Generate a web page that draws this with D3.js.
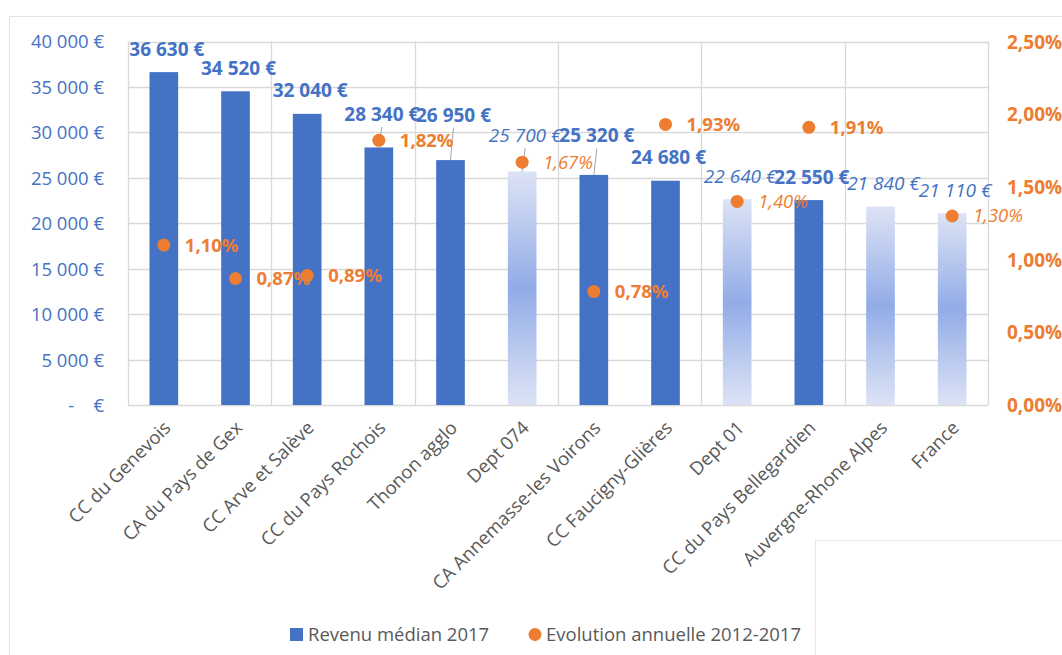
<!DOCTYPE html>
<html>
<head>
<meta charset="utf-8">
<script src="https://cdn.jsdelivr.net/npm/d3@7"></script>
<style>
  body { margin: 0; background: #fff; }
  svg { font-family: "Open Sans", sans-serif; display: block; }
</style>
</head>
<body>
<svg id="chart" width="1062" height="655"></svg>
<script>
const categories = ["CC du Genevois", "CA du Pays de Gex", "CC Arve et Salève", "CC du Pays Rochois",
    "Thonon agglo", "Dept 074", "CA Annemasse-les Voirons", "CC Faucigny-Glières", "Dept 01",
    "CC du Pays Bellegardien", "Auvergne-Rhone Alpes", "France"];
const revenu = [36630, 34520, 32040, 28340, 26950, 25700, 25320, 24680, 22640, 22550, 21840, 21110];
const evolution = [1.10, 0.87, 0.89, 1.82, null, 1.67, 0.78, 1.93, 1.40, 1.91, null, 1.30];
// reference territories drawn with the pale gradient
const reference = ["Dept 074", "Dept 01", "Auvergne-Rhone Alpes", "France"];
const leftTicks = [0, 5000, 10000, 15000, 20000, 25000, 30000, 35000, 40000];
const rightTicks = [0, 0.5, 1, 1.5, 2, 2.5];

// extra lift of some value labels (moved by hand in the original), with leader lines
const labelLift = [0, 0, 0, 10, 22, 13, 16, 0, 0, 0, 0, 0];

const blue = "#4472C4", orange = "#ED7D31", grey = "#595959", grid = "#d9d9d9";

const svg = d3.select("#chart");
const plotLeft = 128, plotRight = 988, plotTop = 41.5, plotBottom = 405;

const defs = svg.append("defs");
const grad = defs.append("linearGradient").attr("id", "pale").attr("x1", 0).attr("x2", 0).attr("y1", 0).attr("y2", 1);
grad.append("stop").attr("offset", "0%").attr("stop-color", "#dde3f5");
grad.append("stop").attr("offset", "50%").attr("stop-color", "#92ace7");
grad.append("stop").attr("offset", "100%").attr("stop-color", "#dde3f5");

// outer frame
svg.append("rect").attr("x", 9.5).attr("y", 16.5).attr("width", 1100).attr("height", 700)
    .attr("fill", "#fff").attr("stroke", "#e3e3e3");

const x = d3.scaleBand().domain(categories).range([plotLeft, plotRight]).paddingInner(0).paddingOuter(0);
const y = d3.scaleLinear().domain([0, 40000]).range([plotBottom, plotTop]);
const y2 = d3.scaleLinear().domain([0, 2.5]).range([plotBottom, plotTop]);
const barW = x.bandwidth() * 0.4;
const cx = d => x(d) + x.bandwidth() / 2;

// horizontal gridlines
svg.append("g").selectAll("line").data(leftTicks).join("line")
    .attr("x1", plotLeft).attr("x2", plotRight)
    .attr("y1", d => Math.round(y(d)) + 0.5).attr("y2", d => Math.round(y(d)) + 0.5)
    .attr("stroke", grid).attr("stroke-width", 1.3);

// vertical gridlines every two categories
const vlines = d3.range(0, categories.length + 1, 2).map(i => plotLeft + i * x.step());
svg.append("g").selectAll("line").data(vlines).join("line")
    .attr("x1", d => Math.round(d) + 0.5).attr("x2", d => Math.round(d) + 0.5)
    .attr("y1", plotTop).attr("y2", plotBottom)
    .attr("stroke", grid).attr("stroke-width", 1.3);

// left axis
const yAxis = d3.axisLeft(y).tickValues(leftTicks).tickSize(0).tickPadding(0)
    .tickFormat(d => d === 0 ? "-    €" : d3.format(",")(d).replace(/,/g, " ") + " €");
const ga = svg.append("g").attr("transform", `translate(104,0)`).call(yAxis);
ga.select(".domain").remove();
ga.selectAll("text").attr("fill", blue).attr("font-size", 18.5).attr("font-family", "Open Sans")
    .style("white-space", "pre").attr("dy", "0.35em");

// right axis
const y2Axis = d3.axisRight(y2).tickValues(rightTicks).tickSize(0).tickPadding(0)
    .tickFormat(d => d3.format(".2f")(d).replace(".", ",") + "%");
const gb = svg.append("g").attr("transform", `translate(1007,0)`).call(y2Axis);
gb.select(".domain").remove();
gb.selectAll("text").attr("fill", orange).attr("font-size", 19).attr("font-weight", "bold")
    .attr("font-family", "Open Sans").attr("dy", "0.35em");

// bars
const isRef = d => reference.includes(d);
svg.append("g").selectAll("rect").data(categories).join("rect")
    .attr("x", d => cx(d) - barW / 2)
    .attr("width", barW)
    .attr("y", (d, i) => y(revenu[i]))
    .attr("height", (d, i) => y(0) - y(revenu[i]))
    .attr("fill", d => isRef(d) ? "url(#pale)" : blue);

// category labels
svg.append("g").selectAll("text").data(categories).join("text")
    .attr("transform", d => `translate(${cx(d) + 8},${429}) rotate(-45)`)
    .attr("text-anchor", "end")
    .attr("fill", grey).attr("font-size", 18.5)
    .text(d => d);

// value labels
const fmtEur = v => d3.format(",")(v).replace(/,/g, " ") + " €";
const labelY = i => y(revenu[i]) - 16.5 - labelLift[i];
svg.append("g").selectAll("line").data(categories.filter((d, i) => labelLift[i] > 0)).join("line")
    .attr("x1", d => cx(d) + 3).attr("y1", d => labelY(categories.indexOf(d)) + 6)
    .attr("x2", d => cx(d)).attr("y2", d => y(revenu[categories.indexOf(d)]))
    .attr("stroke", "#a6a6a6").attr("stroke-width", 1);

svg.append("g").selectAll("text").data(categories).join("text")
    .attr("x", d => cx(d) + 3)
    .attr("y", (d, i) => labelY(i))
    .attr("text-anchor", "middle")
    .attr("fill", blue).attr("font-size", 19)
    .attr("font-weight", d => isRef(d) ? "normal" : "bold")
    .attr("font-style", d => isRef(d) ? "italic" : "normal")
    .text((d, i) => fmtEur(revenu[i]));

// evolution dots
const pts = categories.map((d, i) => ({ cat: d, v: evolution[i] })).filter(p => p.v !== null);
svg.append("g").selectAll("circle").data(pts).join("circle")
    .attr("cx", p => cx(p.cat)).attr("cy", p => y2(p.v)).attr("r", 6.5)
    .attr("fill", orange);

svg.append("g").selectAll("text").data(pts).join("text")
    .attr("x", p => cx(p.cat) + 21).attr("y", p => y2(p.v)).attr("dy", "0.35em")
    .attr("fill", orange).attr("font-size", 18.5)
    .attr("font-weight", p => isRef(p.cat) ? "normal" : "bold")
    .attr("font-style", p => isRef(p.cat) ? "italic" : "normal")
    .text(p => d3.format(".2f")(p.v).replace(".", ",") + "%");

// legend
const lg = svg.append("g").attr("font-size", 18.5).attr("fill", grey);
lg.append("rect").attr("x", 290).attr("y", 628).attr("width", 13).attr("height", 13).attr("fill", blue);
lg.append("text").attr("x", 308).attr("y", 641).text("Revenu médian 2017");
lg.append("circle").attr("cx", 535).attr("cy", 634.5).attr("r", 6.5).attr("fill", orange);
lg.append("text").attr("x", 546).attr("y", 641).text("Evolution annuelle 2012-2017");

// blank panel overlapping the bottom-right corner
svg.append("rect").attr("x", 815.5).attr("y", 540.5).attr("width", 300).attr("height", 200)
    .attr("fill", "#fff").attr("stroke", "#e6e6e6");
</script>
</body>
</html>
